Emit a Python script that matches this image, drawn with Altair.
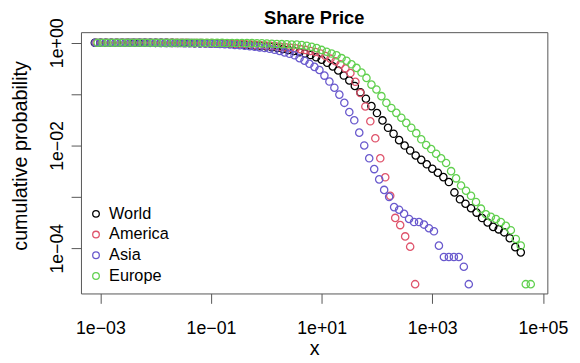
import altair as alt
import pandas as pd

SERIES = ["World", "America", "Asia", "Europe"]
COLORS = ["#000000", "#DF536B", "#6959CD", "#61D04F"]

X_TICKS = [1e-3, 1e-1, 1e1, 1e3, 1e5]
Y_TICKS = [1.0, 1e-1, 1e-2, 1e-3, 1e-4]

# log10(x) and log10(P)
world_log_x = [-3.10, -3.00, -2.90, -2.80, -2.70, -2.60, -2.50, -2.40, -2.30, -2.20,
               -2.10, -2.00, -1.90, -1.80, -1.70, -1.60, -1.50, -1.40, -1.30, -1.20,
               -1.10, -1.00, -0.90, -0.80, -0.70, -0.60, -0.50, -0.40, -0.30, -0.20,
               -0.10, 0.00, 0.10, 0.20, 0.30, 0.40, 0.50, 0.60, 0.70, 0.80,
               0.90, 1.00, 1.10, 1.20, 1.30, 1.40, 1.50, 1.60, 1.70, 1.80,
               1.90, 2.00, 2.10, 2.20, 2.30, 2.40, 2.50, 2.60, 2.70, 2.80,
               2.90, 3.00, 3.10, 3.20, 3.30, 3.40, 3.50, 3.60, 3.70, 3.80,
               3.90, 4.00, 4.10, 4.20, 4.30, 4.40, 4.50, 4.60]
world_log_p = [0, 0, 0, 0, 0, 0, 0, -0.001, -0.001, -0.001,
               -0.001, -0.002, -0.002, -0.003, -0.003, -0.004, -0.005, -0.006, -0.007, -0.008,
               -0.010, -0.012, -0.014, -0.017, -0.021, -0.025, -0.030, -0.036, -0.043, -0.051,
               -0.061, -0.072, -0.085, -0.100, -0.120, -0.140, -0.160, -0.185, -0.210, -0.240,
               -0.284, -0.330, -0.390, -0.460, -0.540, -0.639, -0.735, -0.841, -0.965, -1.090,
               -1.234, -1.369, -1.512, -1.656, -1.772, -1.896, -2.002, -2.098, -2.194, -2.280,
               -2.367, -2.453, -2.530, -2.616, -2.712, -2.914, -3.048, -3.134, -3.221, -3.307,
               -3.413, -3.499, -3.585, -3.633, -3.691, -3.806, -3.979, -4.081]

america_log_x = [-3.07, -2.98, -2.89, -2.80, -2.71, -2.62, -2.53, -2.44, -2.35, -2.26,
                 -2.17, -2.08, -1.99, -1.90, -1.81, -1.72, -1.63, -1.54, -1.45, -1.36,
                 -1.27, -1.18, -1.09, -1.00, -0.91, -0.82, -0.73, -0.64, -0.55, -0.46,
                 -0.37, -0.28, -0.19, -0.10, -0.01, 0.08, 0.17, 0.26, 0.35, 0.44,
                 0.53, 0.62, 0.71, 0.80, 0.89, 0.98, 1.07, 1.16, 1.25, 1.34,
                 1.43, 1.52, 1.61, 1.70, 1.79, 1.88, 1.97, 2.06, 2.15, 2.24,
                 2.33, 2.42, 2.51, 2.60, 2.69]
america_log_p = [0, 0, 0, 0, 0, 0, 0, 0, 0, 0,
                 0, 0, -0.001, -0.001, -0.001, -0.002, -0.002, -0.003, -0.003, -0.004,
                 -0.005, -0.006, -0.007, -0.008, -0.010, -0.012, -0.015, -0.018, -0.022, -0.026,
                 -0.031, -0.036, -0.042, -0.048, -0.055, -0.062, -0.070, -0.080, -0.090, -0.100,
                 -0.110, -0.125, -0.140, -0.160, -0.180, -0.210, -0.260, -0.310, -0.360, -0.420,
                 -0.500, -0.590, -0.760, -0.980, -1.240, -1.530, -1.860, -2.250, -2.620, -2.980,
                 -3.410, -3.550, -3.770, -3.970, -4.700]

asia_log_x = [-3.09, -3.00, -2.91, -2.82, -2.73, -2.64, -2.55, -2.46, -2.37, -2.28,
              -2.19, -2.10, -2.01, -1.92, -1.83, -1.74, -1.65, -1.56, -1.47, -1.38,
              -1.29, -1.20, -1.11, -1.02, -0.93, -0.84, -0.75, -0.66, -0.57, -0.48,
              -0.39, -0.30, -0.21, -0.12, -0.03, 0.06, 0.15, 0.24, 0.33, 0.42,
              0.51, 0.60, 0.69, 0.78, 0.87, 0.96, 1.05, 1.14, 1.23, 1.32,
              1.41, 1.50, 1.59, 1.68, 1.77, 1.86, 1.95, 2.04, 2.13, 2.22,
              2.31, 2.40, 2.49, 2.58, 2.67, 2.76, 2.85, 2.94, 3.03, 3.12,
              3.21, 3.30, 3.39, 3.48, 3.57, 3.66]
asia_log_p = [0, 0, 0, 0, 0, 0, 0, 0, -0.001, -0.001,
              -0.001, -0.002, -0.002, -0.003, -0.003, -0.004, -0.005, -0.006, -0.007, -0.008,
              -0.010, -0.012, -0.014, -0.017, -0.020, -0.024, -0.029, -0.035, -0.042, -0.050,
              -0.058, -0.067, -0.078, -0.090, -0.103, -0.118, -0.138, -0.160, -0.188, -0.215,
              -0.245, -0.300, -0.350, -0.410, -0.470, -0.530, -0.640, -0.755, -0.875, -1.010,
              -1.170, -1.350, -1.510, -1.750, -2.000, -2.250, -2.460, -2.660, -2.865, -3.000,
              -3.200, -3.250, -3.330, -3.430, -3.490, -3.490, -3.540, -3.610, -3.670, -3.950,
              -4.170, -4.170, -4.170, -4.170, -4.360, -4.700]

europe_log_x = [-3.05, -2.96, -2.87, -2.78, -2.69, -2.60, -2.51, -2.42, -2.33, -2.24,
                -2.15, -2.06, -1.97, -1.88, -1.79, -1.70, -1.61, -1.52, -1.43, -1.34,
                -1.25, -1.16, -1.07, -0.98, -0.89, -0.80, -0.71, -0.62, -0.53, -0.44,
                -0.35, -0.26, -0.17, -0.08, 0.01, 0.10, 0.19, 0.28, 0.37, 0.46,
                0.55, 0.64, 0.73, 0.82, 0.91, 1.00, 1.09, 1.18, 1.27, 1.36,
                1.45, 1.54, 1.63, 1.72, 1.81, 1.90, 1.99, 2.08, 2.17, 2.26,
                2.35, 2.44, 2.53, 2.62, 2.71, 2.80, 2.89, 2.98, 3.07, 3.16,
                3.25, 3.34, 3.43, 3.52, 3.61, 3.70, 3.79, 3.88, 3.97, 4.06,
                4.15, 4.24, 4.33, 4.42, 4.51, 4.60, 4.69, 4.78]
europe_log_p = [0, 0, 0, 0, 0, 0, 0, 0, 0, 0,
                0, 0, 0, -0.001, -0.001, -0.001, -0.001, -0.001, -0.001, -0.001,
                -0.001, -0.002, -0.002, -0.002, -0.003, -0.003, -0.004, -0.004, -0.005, -0.006,
                -0.007, -0.008, -0.010, -0.012, -0.015, -0.020, -0.025, -0.028, -0.031, -0.034,
                -0.037, -0.045, -0.058, -0.080, -0.105, -0.140, -0.175, -0.210, -0.245, -0.300,
                -0.350, -0.420, -0.490, -0.580, -0.685, -0.815, -0.910, -1.040, -1.170, -1.270,
                -1.365, -1.460, -1.560, -1.655, -1.760, -1.880, -1.990, -2.070, -2.160, -2.250,
                -2.340, -2.500, -2.640, -2.780, -2.880, -2.980, -3.100, -3.230, -3.340, -3.390,
                -3.430, -3.490, -3.565, -3.650, -3.820, -3.950, -4.700, -4.700]

frames = []
for name, lx, lp in [("World", world_log_x, world_log_p),
                     ("America", america_log_x, america_log_p),
                     ("Asia", asia_log_x, asia_log_p),
                     ("Europe", europe_log_x, europe_log_p)]:
    frames.append(pd.DataFrame({"series": name,
                                "x": [10 ** v for v in lx],
                                "p": [10 ** v for v in lp]}))
df = pd.concat(frames, ignore_index=True)

FONT = "Liberation Sans"

x_label_expr = ("datum.value < 0.005 ? '1e\u221203' : datum.value < 0.5 ? '1e\u221201' : "
                "datum.value < 50 ? '1e+01' : datum.value < 5000 ? '1e+03' : '1e+05'")
y_label_expr = ("datum.value > 0.5 ? '1e+00' : (datum.value > 0.005 && datum.value < 0.05) ? '1e\u221202' : "
                "(datum.value > 0.00005 && datum.value < 0.0005) ? '1e\u221204' : ''")

chart = alt.Chart(df).mark_point(
    shape="circle", filled=False, size=55, strokeWidth=1.3, opacity=1
).encode(
    x=alt.X("x:Q",
            scale=alt.Scale(type="log", domain=[4.457e-4, 1.2023e5], nice=False),
            axis=alt.Axis(values=X_TICKS, labelExpr=x_label_expr, title="x",
                          grid=False, domain=False, tickSize=10, tickColor="#555",
                          labelFontSize=18, labelFont=FONT, labelColor="#000",
                          labelPadding=17, labelFlush=False, labelOverlap=False,
                          labelBaseline="top",
                          titleFontSize=20, titleFont=FONT, titleFontWeight="normal",
                          titleColor="#000", titleBaseline="alphabetic", titleY=62)),
    y=alt.Y("p:Q",
            scale=alt.Scale(type="log", domain=[1.315e-5, 1.605], nice=False),
            axis=alt.Axis(values=Y_TICKS, labelExpr=y_label_expr,
                          title="cumulative probability",
                          grid=False, domain=False, tickSize=10, tickColor="#555",
                          labelFontSize=18, labelFont=FONT, labelColor="#000",
                          labelAngle=270, labelAlign="center", labelBaseline="bottom",
                          labelPadding=5, labelFlush=False, labelOverlap=False,
                          titleFontSize=20, titleFont=FONT, titleFontWeight="normal",
                          titleColor="#000", titleAngle=270, titleBaseline="alphabetic",
                          titleAlign="center", titleX=-55, titleY=125)),
    color=alt.Color("series:N",
                    scale=alt.Scale(domain=SERIES, range=COLORS),
                    sort=SERIES,
                    title=None,
                    legend=alt.Legend(orient="none", legendX=7, legendY=176,
                                      symbolType="circle", symbolSize=45,
                                      symbolStrokeWidth=1.3, symbolFillColor="transparent",
                                      labelFontSize=16.5, labelFont=FONT, labelColor="#000",
                                      labelOffset=5, rowPadding=4, padding=0)),
).properties(
    width=473,
    height=265,
    title=alt.TitleParams("Share Price", fontSize=18.5, fontWeight="bold", font=FONT,
                          anchor="middle", frame="group", offset=6, dy=16, color="#000"),
    autosize=alt.AutoSizeParams(type="none"),
    padding={"left": 74, "top": 22, "right": 25, "bottom": 68},
    background="white",
).configure_view(
    stroke="#555", strokeWidth=1
)

chart.save("out.html", embed_options={"renderer": "svg", "actions": False})
